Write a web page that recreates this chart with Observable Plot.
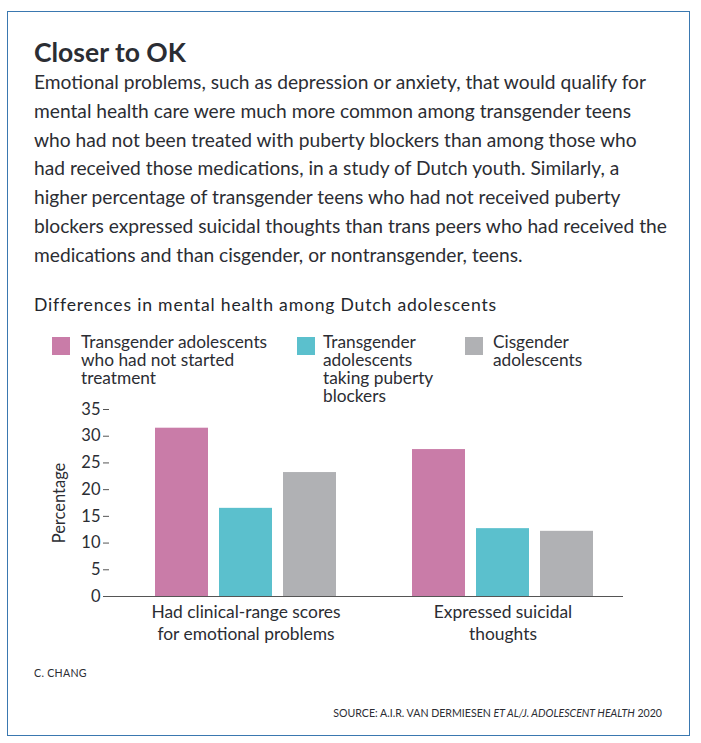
<!DOCTYPE html>
<html>
<head>
<meta charset="utf-8">
<script src="https://cdn.jsdelivr.net/npm/d3@7"></script>
<script src="https://cdn.jsdelivr.net/npm/@observablehq/plot@0.6"></script>
<style>
  html, body { margin: 0; padding: 0; background: #fff; }
  body { width: 701px; height: 743px; position: relative; font-family: Lato, "Open Sans", sans-serif; color: #2b2d33; }
  #box { position: absolute; left: 7px; top: 11px; width: 681px; height: 723px; border: 1px solid #3a78b0; }
  .abs { position: absolute; white-space: nowrap; }
  #title { left: 34px; top: 36px; font-size: 26.5px; font-weight: 700; line-height: 32px; }
  #desc { left: 34px; top: 68px; font-size: 19.2px; line-height: 28.8px; }
  #sub { left: 34px; top: 293px; font-size: 17.6px; letter-spacing: 0.8px; line-height: 24px; color: #23262c; }
  .legItem { position: absolute; top: 333px; }
  .sw { position: absolute; left: 0; top: 4px; width: 18px; height: 18px; }
  .lt { position: absolute; top: 0; font-size: 17.3px; line-height: 18px; white-space: nowrap; }
  #chart { position: absolute; left: 0; top: 399px; }
  #credit { left: 34px; top: 667px; font-size: 10.6px; letter-spacing: 0.3px; }
  #source { right: 39px; top: 707px; font-size: 10.6px; }
</style>
</head>
<body>
<div id="box"></div>
<div id="title" class="abs">Closer to OK</div>
<div id="desc" class="abs">Emotional problems, such as depression or anxiety, that would qualify for<br>mental health care were much more common among transgender teens<br>who had not been treated with puberty blockers than among those who<br>had received those medications, in a study of Dutch youth. Similarly, a<br>higher percentage of transgender teens who had not received puberty<br>blockers expressed suicidal thoughts than trans peers who had received the<br>medications and than cisgender, or nontransgender, teens.</div>
<div id="sub" class="abs">Differences in mental health among Dutch adolescents</div>
<div id="legend"></div>
<div id="chart"></div>
<div id="credit" class="abs">C. CHANG</div>
<div id="source" class="abs">SOURCE: A.I.R. VAN DERMIESEN <i>ET AL/J. ADOLESCENT HEALTH</i> 2020</div>
<script>
// ---- data ----
const groups = ["Had clinical-range scores\nfor emotional problems", "Expressed suicidal\nthoughts"];
const series = [
  "Transgender adolescents who had not started treatment",
  "Transgender adolescents taking puberty blockers",
  "Cisgender adolescents"
];
const legendLabels = [
  ["Transgender adolescents", "who had not started", "treatment"],
  ["Transgender", "adolescents", "taking puberty", "blockers"],
  ["Cisgender", "adolescents"]
];
const untreatedValues = [31.5, 27.5];
const blockerValues = [16.5, 12.7];
const cisgenderValues = [23.2, 12.2];
const colors = ["#c97ca8", "#5bc0cd", "#b0b1b4"];
const yTicks = [0, 5, 10, 15, 20, 25, 30, 35];

const valueLists = [untreatedValues, blockerValues, cisgenderValues];
const table = [];
groups.forEach((g, gi) => {
  series.forEach((s, si) => table.push({group: g, series: s, value: valueLists[si][gi]}));
});

// ---- legend (HTML) ----
const legendSwatchX = [52, 297, 465];
const legendTextX = [81, 323, 493];
const legend = document.getElementById("legend");
series.forEach((s, i) => {
  const item = document.createElement("div");
  item.className = "legItem";
  item.style.left = legendSwatchX[i] + "px";
  const sw = document.createElement("div");
  sw.className = "sw";
  sw.style.background = colors[i];
  const t = document.createElement("div");
  t.className = "lt";
  t.style.left = (legendTextX[i] - legendSwatchX[i]) + "px";
  t.innerHTML = legendLabels[i].join("<br>");
  item.appendChild(sw);
  item.appendChild(t);
  legend.appendChild(item);
});

// ---- chart ----
const chart = Plot.plot({
  width: 701,
  height: 250,
  marginLeft: 108,
  marginRight: 78,
  marginTop: 10,
  marginBottom: 53,
  style: {fontFamily: "Lato, 'Open Sans', sans-serif", fontSize: "16px", color: "#2b2d33", background: "transparent"},
  fx: {domain: groups, paddingInner: 0, paddingOuter: 0, label: null},
  x: {domain: series, paddingInner: 0.17, paddingOuter: 0.565, align: 0.61, axis: null},
  y: {domain: [0, 35], label: "Percentage"},
  color: {domain: series, range: colors},
  marks: [
    Plot.barY(table, {fx: "group", x: "series", y: "value", fill: "series"}),
    Plot.ruleY([0], {stroke: "#555"}),
    Plot.axisY({ticks: yTicks, tickSize: 6, tickPadding: 3, line: true, stroke: "#555", fontSize: 16.5,
      label: "Percentage", labelAnchor: "center", labelArrow: "none", labelOffset: 56}),
    Plot.axisFx({anchor: "bottom", tickSize: 0, tickPadding: 5, dx: 8, lineHeight: 1.3, label: null, fontSize: 17.4})
  ]
});
document.getElementById("chart").appendChild(chart);
</script>
</body>
</html>
